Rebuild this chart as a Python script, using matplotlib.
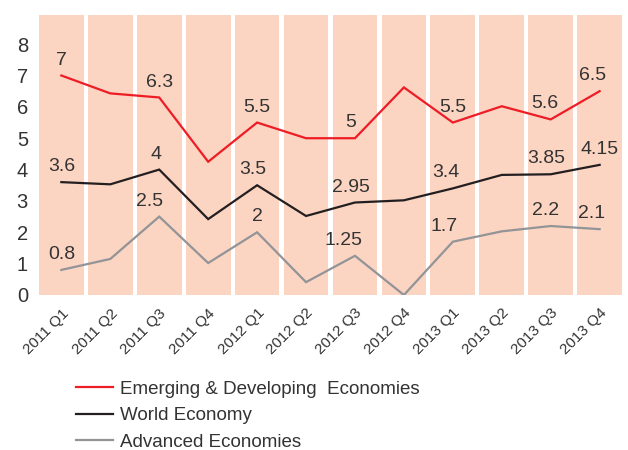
import matplotlib.pyplot as plt
import numpy as np

plt.rcParams['font.family'] = ['Liberation Sans', 'DejaVu Sans']

quarters = ['2011 Q1', '2011 Q2', '2011 Q3', '2011 Q4',
            '2012 Q1', '2012 Q2', '2012 Q3', '2012 Q4',
            '2013 Q1', '2013 Q2', '2013 Q3', '2013 Q4']
emerging = [7.0, 6.43, 6.3, 4.25, 5.5, 5.0, 5.0, 6.62, 5.5, 6.02, 5.6, 6.5]
world = [3.6, 3.53, 4.0, 2.42, 3.5, 2.52, 2.95, 3.02, 3.4, 3.83, 3.85, 4.15]
advanced = [0.8, 1.15, 2.5, 1.02, 2.0, 0.41, 1.25, 0.0, 1.7, 2.03, 2.2, 2.1]

# which points get a value label
labelled = [0, 2, 4, 6, 8, 10, 11]
# horizontal nudge (points) for each label, per series
nudge = {
    'emerging': [0, 0, 0, -3, 0, -4, -5],
    'world': [0, -2, -3, -3, -5, -3, 0],
    'advanced': [0, -7, 0, -8, -6, -4, -6],
}

peach = '#FCD4C2'
red = '#EE1C25'
black = '#231F20'
grey = '#929497'
txt = '#333333'

fig = plt.figure(figsize=(6.28, 4.5), dpi=100)
ax = fig.add_axes([39 / 628, 1 - 295 / 450, 583 / 628, 280 / 450])

x = np.arange(len(quarters))
top = 8.93
ax.bar(x, top, width=0.914, color=peach, zorder=0)

series = [
    ('emerging', emerging, red, 'Emerging & Developing  Economies'),
    ('world', world, black, 'World Economy'),
    ('advanced', advanced, grey, 'Advanced Economies'),
]
for key, vals, col, name in series:
    ax.plot(x, vals, color=col, lw=1.6, label=name, zorder=3,
            solid_joinstyle='miter')
    for i, dx in zip(labelled, nudge[key]):
        v = vals[i]
        s = ('%g' % v)
        ax.annotate(s, (x[i], v), xytext=(dx, 5), textcoords='offset points',
                    ha='center', va='bottom', fontsize=14, color=txt, zorder=4)

ax.set_xlim(-0.457, 11.457)
ax.set_ylim(0, top)
ax.set_yticks(range(0, 9))
ax.set_yticklabels([str(v) for v in range(0, 9)], fontsize=14.5, color=txt)
ax.set_xticks(x)
ax.set_xticklabels(quarters, rotation=45, ha='right', rotation_mode='anchor',
                   fontsize=11, color=txt)
ax.tick_params(axis='both', length=0)
ax.tick_params(axis='y', pad=8)
ax.tick_params(axis='x', pad=8)
for sp in ax.spines.values():
    sp.set_visible(False)

fig.legend(loc='upper left', bbox_to_anchor=(68 / 628, 1 - 373 / 450),
           frameon=False, fontsize=13.5, handlelength=2.0, handletextpad=0.4,
           labelspacing=0.5, labelcolor=txt, borderaxespad=0)

fig.savefig('out.png', dpi=100)
